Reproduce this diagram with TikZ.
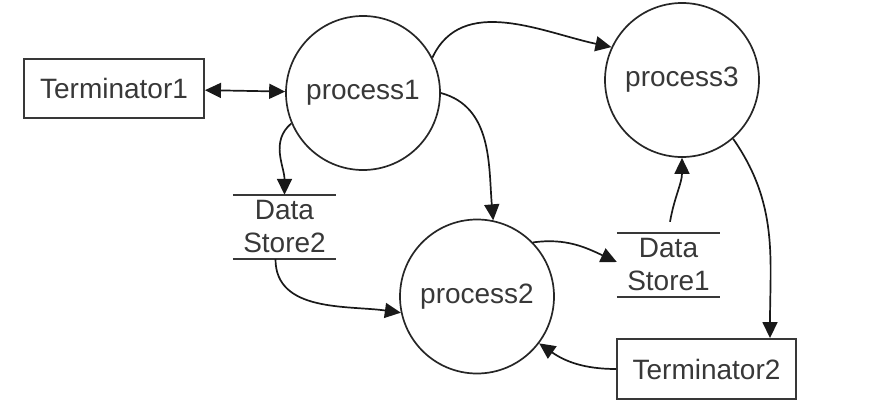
\documentclass[tikz,border=0pt]{standalone}
\usepackage{fontspec}
\setmainfont{Liberation Sans}
\usetikzlibrary{arrows.meta}
\begin{document}
\begin{tikzpicture}[x=1pt,y=1pt,
  every node/.style={font=\fontsize{28}{33}\selectfont, text=black!78, inner sep=0pt},
  term/.style={draw=black!78, line width=1.9pt, minimum width=180pt, minimum height=59pt},
  proc/.style={draw=black!85, line width=1.7pt, circle, minimum size=154pt},
  store/.style={align=center, minimum width=103pt, minimum height=64pt},
  flow/.style={draw=black!90, line width=1.7pt, -{Triangle[length=16pt,width=15pt]}},
  storeline/.style={draw=black!78, line width=1.9pt}]
\useasboundingbox (0,0) rectangle (885,416);
\node[term] (T1) at (114,327.5) {Terminator1};
\node[proc] (p1) at (363,323) {process1};
\node[proc] (p3) at (682,336) {process3};
\node[proc] (p2) at (477,119.5) {process2};
\node[store] (ds2) at (284.5,189) {Data\\Store2};
\node[store] (ds1) at (668.5,151) {Data\\Store1};
\node[term, minimum width=179pt, minimum height=60pt] (T2) at (706.5,47) {Terminator2};
\draw[storeline] (ds2.north west) -- (ds2.north east);
\draw[storeline] (ds2.south west) -- (ds2.south east);
\draw[storeline] (ds1.north west) -- (ds1.north east);
\draw[storeline] (ds1.south west) -- (ds1.south east);
\draw[flow, {Triangle[length=16pt,width=15pt]}-{Triangle[length=16pt,width=15pt]}] (T1) -- (p1);
\draw[flow] (p1.203) to[out=-140, in=90] (ds2.north);
\draw[flow] (p1.27) to[out=65, in=168] (p3.155);
\draw[flow] (p1.0) to[out=-15, in=95] (p2.78);
\draw[flow] ([xshift=-9pt]ds2.south) to[out=-90, in=172] (p2.192);
\draw[flow] (p2.44) to[out=8, in=155] ([yshift=3pt]ds1.west);
\draw[flow] ([xshift=1.5pt,yshift=11pt]ds1.north) to[out=80, in=-90] (p3.270);
\draw[flow] (p3.-49) to[out=-55, in=90] ([xshift=63.5pt]T2.north);
\draw[flow] (T2.west) to[out=180, in=-35] (p2.-37);
\end{tikzpicture}
\end{document}
